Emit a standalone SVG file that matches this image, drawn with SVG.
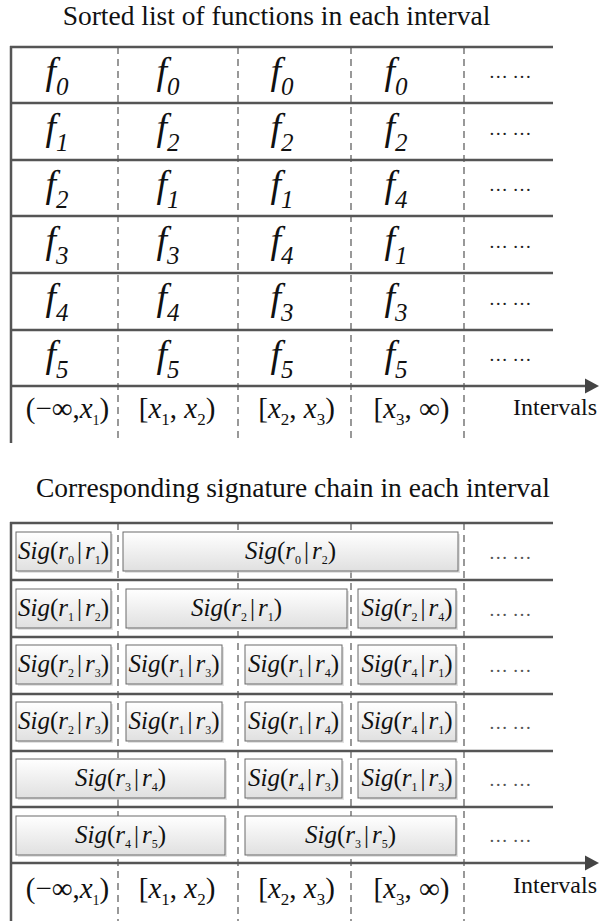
<svg xmlns="http://www.w3.org/2000/svg" width="600" height="921" viewBox="0 0 600 921" font-family="Liberation Serif, serif">
<defs>
<linearGradient id="boxfill" x1="0" y1="0" x2="0" y2="1">
<stop offset="0" stop-color="#ffffff"/>
<stop offset="1" stop-color="#e0e0e0"/>
</linearGradient>
</defs>
<style>
.title{font-family:'Liberation Serif',serif;font-size:27.5px;fill:#111}
.axl{font-family:'Liberation Serif',serif;font-size:24px;fill:#111}
.rule{stroke:#555;stroke-width:2.5;fill:none}
.dash{stroke:#555;stroke-width:1.2;stroke-dasharray:7 5;fill:none}
.arrow{fill:#444}
.f{font-family:'Liberation Serif',serif;font-size:38px;font-style:italic;fill:#111}
.fs{font-size:25px}
.ell{font-family:'Liberation Serif',serif;font-size:19px;fill:#222}
.ell2{font-family:'Liberation Serif',serif;font-size:19px;fill:#555}
.iv{font-family:'Liberation Serif',serif;font-size:29px;fill:#111}
.i{font-style:italic}
.ivs{font-size:17px}
.ivs1{font-size:14px}
.box{fill:url(#boxfill);stroke:#6a6a6a;stroke-width:1}
.shd{fill:#cfcfcf;opacity:0.6}
.sig{font-family:'Liberation Serif',serif;font-size:25px;fill:#111}
.sb{font-size:12px}
</style>

<text class="title" x="276.5" y="25" text-anchor="middle">Sorted list of functions in each interval</text>
<text class="title" x="293" y="497" text-anchor="middle">Corresponding signature chain in each interval</text>

<g id="connectors">
<g id="top-grid">
<line class="dash" x1="118" y1="47" x2="118" y2="443"/>
<line class="dash" x1="238" y1="47" x2="238" y2="443"/>
<line class="dash" x1="351" y1="47" x2="351" y2="443"/>
<line class="dash" x1="464" y1="47" x2="464" y2="443"/>
<line class="rule" x1="11" y1="46" x2="11" y2="443"/>
<line class="rule" x1="10" y1="47" x2="553" y2="47"/>
<line class="rule" x1="11" y1="103" x2="553" y2="103"/>
<line class="rule" x1="11" y1="160" x2="553" y2="160"/>
<line class="rule" x1="11" y1="216" x2="553" y2="216"/>
<line class="rule" x1="11" y1="273" x2="553" y2="273"/>
<line class="rule" x1="11" y1="330" x2="553" y2="330"/>
<line class="rule" x1="11" y1="386" x2="588" y2="386"/>
<polygon class="arrow" points="585,378.5 599,386 585,393.5"/>
</g>
<g id="bottom-grid">
<line class="dash" x1="118" y1="523" x2="118" y2="921"/>
<line class="dash" x1="238" y1="523" x2="238" y2="921"/>
<line class="dash" x1="351" y1="523" x2="351" y2="921"/>
<line class="dash" x1="464" y1="523" x2="464" y2="921"/>
<line class="rule" x1="11" y1="522" x2="11" y2="921"/>
<line class="rule" x1="10" y1="523" x2="553" y2="523"/>
<line class="rule" x1="11" y1="580" x2="553" y2="580"/>
<line class="rule" x1="11" y1="637" x2="553" y2="637"/>
<line class="rule" x1="11" y1="694" x2="553" y2="694"/>
<line class="rule" x1="11" y1="751" x2="553" y2="751"/>
<line class="rule" x1="11" y1="807" x2="553" y2="807"/>
<line class="rule" x1="11" y1="863" x2="588" y2="863"/>
<polygon class="arrow" points="585,855.5 599,863 585,870.5"/>
</g>
</g>

<g id="top-table">
<g id="top-row0">
<text class="f" x="57" y="84" text-anchor="middle">f<tspan class="fs" dy="11">0</tspan></text>
<text class="f" x="168" y="84" text-anchor="middle">f<tspan class="fs" dy="11">0</tspan></text>
<text class="f" x="282" y="84" text-anchor="middle">f<tspan class="fs" dy="11">0</tspan></text>
<text class="f" x="396" y="84" text-anchor="middle">f<tspan class="fs" dy="11">0</tspan></text>
<text class="ell" x="510" y="78" text-anchor="middle">… …</text>
</g>
<g id="top-row1">
<text class="f" x="57" y="140" text-anchor="middle">f<tspan class="fs" dy="11">1</tspan></text>
<text class="f" x="168" y="140" text-anchor="middle">f<tspan class="fs" dy="11">2</tspan></text>
<text class="f" x="282" y="140" text-anchor="middle">f<tspan class="fs" dy="11">2</tspan></text>
<text class="f" x="396" y="140" text-anchor="middle">f<tspan class="fs" dy="11">2</tspan></text>
<text class="ell" x="510" y="134.5" text-anchor="middle">… …</text>
</g>
<g id="top-row2">
<text class="f" x="57" y="197" text-anchor="middle">f<tspan class="fs" dy="11">2</tspan></text>
<text class="f" x="168" y="197" text-anchor="middle">f<tspan class="fs" dy="11">1</tspan></text>
<text class="f" x="282" y="197" text-anchor="middle">f<tspan class="fs" dy="11">1</tspan></text>
<text class="f" x="396" y="197" text-anchor="middle">f<tspan class="fs" dy="11">4</tspan></text>
<text class="ell" x="510" y="191" text-anchor="middle">… …</text>
</g>
<g id="top-row3">
<text class="f" x="57" y="253" text-anchor="middle">f<tspan class="fs" dy="11">3</tspan></text>
<text class="f" x="168" y="253" text-anchor="middle">f<tspan class="fs" dy="11">3</tspan></text>
<text class="f" x="282" y="253" text-anchor="middle">f<tspan class="fs" dy="11">4</tspan></text>
<text class="f" x="396" y="253" text-anchor="middle">f<tspan class="fs" dy="11">1</tspan></text>
<text class="ell" x="510" y="247.5" text-anchor="middle">… …</text>
</g>
<g id="top-row4">
<text class="f" x="57" y="310" text-anchor="middle">f<tspan class="fs" dy="11">4</tspan></text>
<text class="f" x="168" y="310" text-anchor="middle">f<tspan class="fs" dy="11">4</tspan></text>
<text class="f" x="282" y="310" text-anchor="middle">f<tspan class="fs" dy="11">3</tspan></text>
<text class="f" x="396" y="310" text-anchor="middle">f<tspan class="fs" dy="11">3</tspan></text>
<text class="ell" x="510" y="304.5" text-anchor="middle">… …</text>
</g>
<g id="top-row5">
<text class="f" x="57" y="367" text-anchor="middle">f<tspan class="fs" dy="11">5</tspan></text>
<text class="f" x="168" y="367" text-anchor="middle">f<tspan class="fs" dy="11">5</tspan></text>
<text class="f" x="282" y="367" text-anchor="middle">f<tspan class="fs" dy="11">5</tspan></text>
<text class="f" x="396" y="367" text-anchor="middle">f<tspan class="fs" dy="11">5</tspan></text>
<text class="ell" x="510" y="361" text-anchor="middle">… …</text>
</g>
<g id="top-intervals">
<text class="iv" x="67.5" y="418" text-anchor="middle">(−∞,<tspan class="i">x</tspan><tspan class="ivs1" dy="7">1</tspan><tspan dy="-7">)</tspan></text>
<text class="iv" x="177" y="418" text-anchor="middle">[<tspan class="i">x</tspan><tspan class="ivs" dy="7">1</tspan><tspan dy="-7">, </tspan><tspan class="i">x</tspan><tspan class="ivs" dy="7">2</tspan><tspan dy="-7">)</tspan></text>
<text class="iv" x="296.5" y="418" text-anchor="middle">[<tspan class="i">x</tspan><tspan class="ivs" dy="7">2</tspan><tspan dy="-7">, </tspan><tspan class="i">x</tspan><tspan class="ivs" dy="7">3</tspan><tspan dy="-7">)</tspan></text>
<text class="iv" x="411.5" y="418" text-anchor="middle">[<tspan class="i">x</tspan><tspan class="ivs" dy="7">3</tspan><tspan dy="-7">, ∞)</tspan></text>
<text class="axl" x="513" y="415">Intervals</text>
</g>
</g>

<g id="bottom-table">
<g id="sig-row0">
<g id="b0-0"><rect class="shd" x="18" y="534" width="95" height="39"/><rect class="box" x="16" y="532" width="95" height="39"/><text class="sig" x="63.5" y="558.5" text-anchor="middle"><tspan class="i">Sig</tspan>(<tspan class="i">r</tspan><tspan class="sb" dy="5">0</tspan><tspan dy="-5" dx="3">|</tspan><tspan class="i" dx="3">r</tspan><tspan class="sb" dy="5">1</tspan><tspan dy="-5">)</tspan></text></g>
<g id="b0-1"><rect class="shd" x="125" y="534" width="335" height="39"/><rect class="box" x="123" y="532" width="335" height="39"/><text class="sig" x="290.5" y="558.5" text-anchor="middle"><tspan class="i">Sig</tspan>(<tspan class="i">r</tspan><tspan class="sb" dy="5">0</tspan><tspan dy="-5" dx="3">|</tspan><tspan class="i" dx="3">r</tspan><tspan class="sb" dy="5">2</tspan><tspan dy="-5">)</tspan></text></g>
<text class="ell2" x="510" y="559" text-anchor="middle">… …</text>
</g>
<g id="sig-row1">
<g id="b1-0"><rect class="shd" x="18" y="591" width="95" height="39"/><rect class="box" x="16" y="589" width="95" height="39"/><text class="sig" x="63.5" y="615.5" text-anchor="middle"><tspan class="i">Sig</tspan>(<tspan class="i">r</tspan><tspan class="sb" dy="5">1</tspan><tspan dy="-5" dx="3">|</tspan><tspan class="i" dx="3">r</tspan><tspan class="sb" dy="5">2</tspan><tspan dy="-5">)</tspan></text></g>
<g id="b1-1"><rect class="shd" x="128" y="591" width="221" height="39"/><rect class="box" x="126" y="589" width="221" height="39"/><text class="sig" x="236.5" y="615.5" text-anchor="middle"><tspan class="i">Sig</tspan>(<tspan class="i">r</tspan><tspan class="sb" dy="5">2</tspan><tspan dy="-5" dx="3">|</tspan><tspan class="i" dx="3">r</tspan><tspan class="sb" dy="5">1</tspan><tspan dy="-5">)</tspan></text></g>
<g id="b1-2"><rect class="shd" x="360" y="591" width="98" height="39"/><rect class="box" x="358" y="589" width="98" height="39"/><text class="sig" x="407" y="615.5" text-anchor="middle"><tspan class="i">Sig</tspan>(<tspan class="i">r</tspan><tspan class="sb" dy="5">2</tspan><tspan dy="-5" dx="3">|</tspan><tspan class="i" dx="3">r</tspan><tspan class="sb" dy="5">4</tspan><tspan dy="-5">)</tspan></text></g>
<text class="ell2" x="510" y="616" text-anchor="middle">… …</text>
</g>
<g id="sig-row2">
<g id="b2-0"><rect class="shd" x="18" y="647" width="95" height="39"/><rect class="box" x="16" y="645" width="95" height="39"/><text class="sig" x="63.5" y="671.5" text-anchor="middle"><tspan class="i">Sig</tspan>(<tspan class="i">r</tspan><tspan class="sb" dy="5">2</tspan><tspan dy="-5" dx="3">|</tspan><tspan class="i" dx="3">r</tspan><tspan class="sb" dy="5">3</tspan><tspan dy="-5">)</tspan></text></g>
<g id="b2-1"><rect class="shd" x="128" y="647" width="96" height="39"/><rect class="box" x="126" y="645" width="96" height="39"/><text class="sig" x="174" y="671.5" text-anchor="middle"><tspan class="i">Sig</tspan>(<tspan class="i">r</tspan><tspan class="sb" dy="5">1</tspan><tspan dy="-5" dx="3">|</tspan><tspan class="i" dx="3">r</tspan><tspan class="sb" dy="5">3</tspan><tspan dy="-5">)</tspan></text></g>
<g id="b2-2"><rect class="shd" x="247" y="647" width="97" height="39"/><rect class="box" x="245" y="645" width="97" height="39"/><text class="sig" x="293.5" y="671.5" text-anchor="middle"><tspan class="i">Sig</tspan>(<tspan class="i">r</tspan><tspan class="sb" dy="5">1</tspan><tspan dy="-5" dx="3">|</tspan><tspan class="i" dx="3">r</tspan><tspan class="sb" dy="5">4</tspan><tspan dy="-5">)</tspan></text></g>
<g id="b2-3"><rect class="shd" x="360" y="647" width="98" height="39"/><rect class="box" x="358" y="645" width="98" height="39"/><text class="sig" x="407" y="671.5" text-anchor="middle"><tspan class="i">Sig</tspan>(<tspan class="i">r</tspan><tspan class="sb" dy="5">4</tspan><tspan dy="-5" dx="3">|</tspan><tspan class="i" dx="3">r</tspan><tspan class="sb" dy="5">1</tspan><tspan dy="-5">)</tspan></text></g>
<text class="ell2" x="510" y="672" text-anchor="middle">… …</text>
</g>
<g id="sig-row3">
<g id="b3-0"><rect class="shd" x="18" y="704" width="95" height="39"/><rect class="box" x="16" y="702" width="95" height="39"/><text class="sig" x="63.5" y="728.5" text-anchor="middle"><tspan class="i">Sig</tspan>(<tspan class="i">r</tspan><tspan class="sb" dy="5">2</tspan><tspan dy="-5" dx="3">|</tspan><tspan class="i" dx="3">r</tspan><tspan class="sb" dy="5">3</tspan><tspan dy="-5">)</tspan></text></g>
<g id="b3-1"><rect class="shd" x="128" y="704" width="96" height="39"/><rect class="box" x="126" y="702" width="96" height="39"/><text class="sig" x="174" y="728.5" text-anchor="middle"><tspan class="i">Sig</tspan>(<tspan class="i">r</tspan><tspan class="sb" dy="5">1</tspan><tspan dy="-5" dx="3">|</tspan><tspan class="i" dx="3">r</tspan><tspan class="sb" dy="5">3</tspan><tspan dy="-5">)</tspan></text></g>
<g id="b3-2"><rect class="shd" x="247" y="704" width="97" height="39"/><rect class="box" x="245" y="702" width="97" height="39"/><text class="sig" x="293.5" y="728.5" text-anchor="middle"><tspan class="i">Sig</tspan>(<tspan class="i">r</tspan><tspan class="sb" dy="5">1</tspan><tspan dy="-5" dx="3">|</tspan><tspan class="i" dx="3">r</tspan><tspan class="sb" dy="5">4</tspan><tspan dy="-5">)</tspan></text></g>
<g id="b3-3"><rect class="shd" x="360" y="704" width="98" height="39"/><rect class="box" x="358" y="702" width="98" height="39"/><text class="sig" x="407" y="728.5" text-anchor="middle"><tspan class="i">Sig</tspan>(<tspan class="i">r</tspan><tspan class="sb" dy="5">4</tspan><tspan dy="-5" dx="3">|</tspan><tspan class="i" dx="3">r</tspan><tspan class="sb" dy="5">1</tspan><tspan dy="-5">)</tspan></text></g>
<text class="ell2" x="510" y="729" text-anchor="middle">… …</text>
</g>
<g id="sig-row4">
<g id="b4-0"><rect class="shd" x="18" y="761" width="209" height="39"/><rect class="box" x="16" y="759" width="209" height="39"/><text class="sig" x="120.5" y="785.5" text-anchor="middle"><tspan class="i">Sig</tspan>(<tspan class="i">r</tspan><tspan class="sb" dy="5">3</tspan><tspan dy="-5" dx="3">|</tspan><tspan class="i" dx="3">r</tspan><tspan class="sb" dy="5">4</tspan><tspan dy="-5">)</tspan></text></g>
<g id="b4-1"><rect class="shd" x="247" y="761" width="97" height="39"/><rect class="box" x="245" y="759" width="97" height="39"/><text class="sig" x="293.5" y="785.5" text-anchor="middle"><tspan class="i">Sig</tspan>(<tspan class="i">r</tspan><tspan class="sb" dy="5">4</tspan><tspan dy="-5" dx="3">|</tspan><tspan class="i" dx="3">r</tspan><tspan class="sb" dy="5">3</tspan><tspan dy="-5">)</tspan></text></g>
<g id="b4-2"><rect class="shd" x="360" y="761" width="98" height="39"/><rect class="box" x="358" y="759" width="98" height="39"/><text class="sig" x="407" y="785.5" text-anchor="middle"><tspan class="i">Sig</tspan>(<tspan class="i">r</tspan><tspan class="sb" dy="5">1</tspan><tspan dy="-5" dx="3">|</tspan><tspan class="i" dx="3">r</tspan><tspan class="sb" dy="5">3</tspan><tspan dy="-5">)</tspan></text></g>
<text class="ell2" x="510" y="786" text-anchor="middle">… …</text>
</g>
<g id="sig-row5">
<g id="b5-0"><rect class="shd" x="18" y="818" width="209" height="39"/><rect class="box" x="16" y="816" width="209" height="39"/><text class="sig" x="120.5" y="842.5" text-anchor="middle"><tspan class="i">Sig</tspan>(<tspan class="i">r</tspan><tspan class="sb" dy="5">4</tspan><tspan dy="-5" dx="3">|</tspan><tspan class="i" dx="3">r</tspan><tspan class="sb" dy="5">5</tspan><tspan dy="-5">)</tspan></text></g>
<g id="b5-1"><rect class="shd" x="247" y="818" width="211" height="39"/><rect class="box" x="245" y="816" width="211" height="39"/><text class="sig" x="350.5" y="842.5" text-anchor="middle"><tspan class="i">Sig</tspan>(<tspan class="i">r</tspan><tspan class="sb" dy="5">3</tspan><tspan dy="-5" dx="3">|</tspan><tspan class="i" dx="3">r</tspan><tspan class="sb" dy="5">5</tspan><tspan dy="-5">)</tspan></text></g>
<text class="ell2" x="510" y="842" text-anchor="middle">… …</text>
</g>
<g id="bottom-intervals">
<text class="iv" x="67.5" y="898" text-anchor="middle">(−∞,<tspan class="i">x</tspan><tspan class="ivs1" dy="7">1</tspan><tspan dy="-7">)</tspan></text>
<text class="iv" x="177" y="898" text-anchor="middle">[<tspan class="i">x</tspan><tspan class="ivs" dy="7">1</tspan><tspan dy="-7">, </tspan><tspan class="i">x</tspan><tspan class="ivs" dy="7">2</tspan><tspan dy="-7">)</tspan></text>
<text class="iv" x="296.5" y="898" text-anchor="middle">[<tspan class="i">x</tspan><tspan class="ivs" dy="7">2</tspan><tspan dy="-7">, </tspan><tspan class="i">x</tspan><tspan class="ivs" dy="7">3</tspan><tspan dy="-7">)</tspan></text>
<text class="iv" x="411.5" y="898" text-anchor="middle">[<tspan class="i">x</tspan><tspan class="ivs" dy="7">3</tspan><tspan dy="-7">, ∞)</tspan></text>
<text class="axl" x="513" y="893">Intervals</text>
</g>
</g>
</svg>
